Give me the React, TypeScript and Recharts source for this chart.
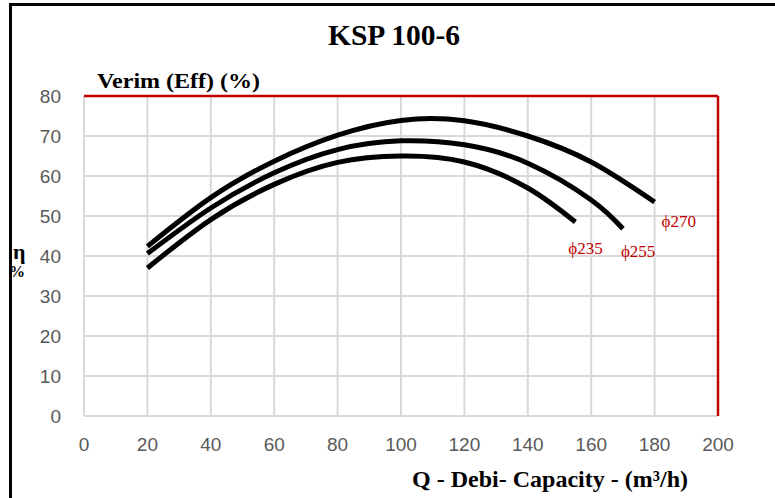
import { LineChart, Line, XAxis, YAxis, CartesianGrid, ReferenceLine } from "recharts";

// Verim eğrileri (çark çapına göre), x = Q (m3/h), y = verim (%)
const Q_TICKS = [0, 20, 40, 60, 80, 100, 120, 140, 160, 180, 200];
const ETA_TICKS = [0, 10, 20, 30, 40, 50, 60, 70, 80];

const IMPELLERS = ["ϕ270", "ϕ255", "ϕ235"];

const EFF_270 = [
  { q: 20, eff: 42.4 },
  { q: 40, eff: 54.6 },
  { q: 60, eff: 63.7 },
  { q: 80, eff: 70.2 },
  { q: 100, eff: 73.9 },
  { q: 120, eff: 73.8 },
  { q: 140, eff: 70.0 },
  { q: 160, eff: 63.5 },
  { q: 180, eff: 53.5 },
];

const EFF_255 = [
  { q: 20, eff: 40.6 },
  { q: 40, eff: 52.0 },
  { q: 60, eff: 60.8 },
  { q: 80, eff: 66.6 },
  { q: 100, eff: 68.8 },
  { q: 120, eff: 67.8 },
  { q: 140, eff: 63.2 },
  { q: 160, eff: 54.0 },
  { q: 170, eff: 46.8 },
];

const EFF_235 = [
  { q: 20, eff: 37.0 },
  { q: 40, eff: 49.1 },
  { q: 60, eff: 57.9 },
  { q: 80, eff: 63.4 },
  { q: 100, eff: 65.0 },
  { q: 120, eff: 63.5 },
  { q: 140, eff: 57.0 },
  { q: 155, eff: 48.5 },
];

const SERIES = [EFF_270, EFF_255, EFF_235];
// label offset from the curve's end point
const LABEL_OFFSETS = [
  { dx: 7, dy: 24.5 },
  { dx: -2, dy: 28 },
  { dx: -7, dy: 31.5 },
];

const RED = "#c00000";
const GRID = "#d9d9d9";
const SERIF = "'Liberation Serif', 'Times New Roman', serif";

function endLabel(i: number) {
  const last = SERIES[i].length - 1;
  return (props: any) => {
    if (props.index !== last) return null;
    const { dx, dy } = LABEL_OFFSETS[i];
    return (
      <text
        key={`lbl-${i}`}
        x={props.x + dx}
        y={props.y + dy}
        fill={RED}
        fontFamily={SERIF}
        fontSize={17}
      >
        {IMPELLERS[i]}
      </text>
    );
  };
}

export default function App() {
  return (
    <div style={{ position: "absolute", left: 0, top: 0, width: 775, height: 498, background: "#fff" }}>
      <LineChart
        width={775}
        height={498}
        margin={{ top: 96, right: 57, bottom: 0, left: 0 }}
      >
        <CartesianGrid stroke={GRID} strokeWidth={2} />
        <XAxis
          type="number"
          dataKey="q"
          domain={[0, 200]}
          ticks={Q_TICKS}
          axisLine={false}
          tickLine={false}
          tickSize={0}
          tickMargin={22}
          height={82}
          tick={{ fill: "#595959", fontSize: 19, fontFamily: "'Liberation Sans', Arial, sans-serif" }}
          allowDuplicatedCategory={false}
        />
        <YAxis
          type="number"
          domain={[0, 80]}
          ticks={ETA_TICKS}
          axisLine={false}
          tickLine={false}
          tickSize={0}
          tickMargin={23}
          width={84}
          tick={{ fill: "#595959", fontSize: 19, fontFamily: "'Liberation Sans', Arial, sans-serif" }}
        />
        <ReferenceLine y={80} stroke={RED} strokeWidth={2.5} />
        <ReferenceLine x={200} stroke={RED} strokeWidth={2.5} />
        {SERIES.map((data, i) => (
          <Line
            key={IMPELLERS[i]}
            data={data}
            dataKey="eff"
            type="natural"
            stroke="#000"
            strokeWidth={5}
            dot={false}
            activeDot={false}
            label={endLabel(i)}
            isAnimationActive={false}
          />
        ))}
      </LineChart>

      {/* başlıklar ve çerçeve */}
      <svg
        width={775}
        height={498}
        style={{ position: "absolute", left: 0, top: 0, pointerEvents: "none" }}
      >
        <text x={328} y={45} fontFamily={SERIF} fontWeight="bold" fontSize={30} textLength={132} lengthAdjust="spacingAndGlyphs">
          KSP 100-6
        </text>
        <text x={97} y={88} fontFamily={SERIF} fontWeight="bold" fontSize={22} textLength={163} lengthAdjust="spacingAndGlyphs">
          Verim (Eff) (%)
        </text>
        <text x={412} y={487} fontFamily={SERIF} fontWeight="bold" fontSize={23} textLength={276} lengthAdjust="spacingAndGlyphs">
          Q - Debi-  Capacity - (m³/h)
        </text>
        <text x={13} y={259} fontFamily={SERIF} fontWeight="bold" fontSize={22}>
          η
        </text>
        <text x={9} y={277} fontFamily={SERIF} fontWeight="bold" fontSize={16}>
          %
        </text>
        <line x1={9} y1={4.5} x2={775} y2={4.5} stroke="#000" strokeWidth={3} />
        <line x1={10.5} y1={3} x2={10.5} y2={498} stroke="#000" strokeWidth={3} />
      </svg>
    </div>
  );
}
